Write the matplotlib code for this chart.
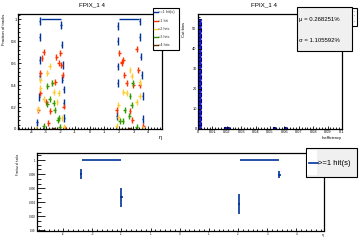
import matplotlib
matplotlib.use('Agg')
import matplotlib.pyplot as plt
from matplotlib.patches import Rectangle
from matplotlib.lines import Line2D
from matplotlib.ticker import MultipleLocator, FormatStrFormatter, AutoMinorLocator

plt.rcParams['font.family'] = ['Liberation Sans', 'DejaVu Sans']

# fraction of tracks vs eta, one list per hit multiplicity
eta_ge1 = [-3.41, -3.41, -3.41, -3.41, -3.45, -3.6, -1.96, -1.92, -1.85, -1.87, -1.78, -1.78, -1.72,
           1.93, 1.92, 1.92, 1.92, 1.85, 3.43, 3.43, 3.48, 3.55, 3.62, 3.62]
frac_ge1 = [0.985, 0.84, 0.63, 0.485, 0.29, 0.06, 0.95, 0.77, 0.585, 0.45, 0.36, 0.24, 0.1,
            0.94, 0.80, 0.57, 0.42, 0.12, 0.98, 0.84, 0.66, 0.49, 0.3, 0.09]
eta_ge1_band = [-2.63, 2.68]
eta_ge1_band_w = [0.67, 0.68]
frac_ge1_band = [1.0, 1.0]

eta_1 = [-3.15, -3.26, -3.37, -2.28, -2.0, -2.12, -1.94, -1.85, -2.35, -3.37, -2.98, -1.78, -3.52, -2.69,
         -2.84, -1.67, 3.21, 2.03, 2.19, 2.3, 2.19, 2.37, 2.53, 2.98, 3.43, 3.32, 1.85, 2.76, 2.91, 3.66]
frac_1 = [0.70, 0.645, 0.51, 0.66, 0.69, 0.60, 0.585, 0.49, 0.43, 0.33, 0.25, 0.205, 0.175, 0.16,
          0.055, 0.0, 0.73, 0.69, 0.615, 0.63, 0.60, 0.49, 0.42, 0.40, 0.40, 0.54, 0.175, 0.16, 0.085, 0.025]

eta_2 = [-2.73, -2.91, -3.37, -2.57, -2.46, -2.12, -3.14, -2.23, -3.37, -1.89, -3.64, -1.78, -3.55,
         2.76, 2.87, 2.3, 2.53, 3.43, 1.96, 3.21, 1.96, 3.43, 1.85, 3.66]
frac_2 = [0.57, 0.51, 0.37, 0.42, 0.34, 0.33, 0.27, 0.25, 0.45, 0.10, 0.0, 0.02, 0.18,
          0.54, 0.48, 0.34, 0.33, 0.30, 0.22, 0.25, 0.11, 0.43, 0.025, 0.0]

eta_3 = [-2.91, -2.57, -2.73, -2.46, -2.39, -2.12, -2.19, -3.14, -2.05, -2.91,
         2.94, 2.76, 2.41, 2.87, 2.07, 2.26, 2.71, 3.21]
frac_3 = [0.39, 0.42, 0.27, 0.24, 0.175, 0.10, 0.085, 0.025, 0.02, 0.23,
          0.42, 0.30, 0.175, 0.22, 0.07, 0.075, 0.12, 0.02]

eta_4 = [-2.9, -2.7, -2.5, -2.3, -2.1, 2.1, 2.3, 2.5, 2.7, 2.9]
frac_4 = [0.004, 0.003, 0.005, 0.004, 0.003, 0.004, 0.003, 0.004, 0.005, 0.003]

legend_labels = ['>=1 hit(s)', '=1 hit', '=2 hits', '=3 hits', '=4 hits']
colors = ['#003399', '#ff3300', '#ffcc33', '#339900', '#663300']

# inefficiency histogram
ineff_bin_lo = [0.0, 0.018, 0.020, 0.052, 0.060]
ineff_counts = [55, 1, 1, 1, 1]
ineff_bin_w = 0.002
stat_lines = ['\u03bc = 0.268251%', '\u03c3 = 1.105592%']

# efficiency vs eta
eta_eff = [-3.38, -2.0, 2.04, 3.42]
eff = [0.998, 0.9947, 0.9938, 0.9979]
eff_err = [0.0007, 0.0014, 0.0014, 0.0005]
eta_eff_band = [-2.67, 2.74]
eta_eff_band_w = [0.67, 0.66]
eff_band = [1.0, 1.0]

title = 'FPIX_1 4'


def fx(px):
    return px / 360.0


def fy(py):
    return 1 - py / 240.0


def style_axes(ax, fs):
    for s in ax.spines.values():
        s.set_linewidth(0.9)
    ax.tick_params(which='both', direction='in', top=False, right=False, labelsize=fs,
                   pad=1, width=0.6, colors='black')
    ax.tick_params(which='major', length=2.5)
    ax.tick_params(which='minor', length=1.2)


fig = plt.figure(figsize=(3.6, 2.4), dpi=100)

# top left: fraction of tracks
ax1 = fig.add_axes([fx(18), fy(129), 144 / 360, 115 / 240])
style_axes(ax1, 3)
ax1.set_xlim(-4.9, 4.95)
ax1.set_ylim(0, 1.048)
ax1.xaxis.set_major_locator(MultipleLocator(1))
ax1.xaxis.set_minor_locator(MultipleLocator(0.2))
ax1.yaxis.set_major_locator(MultipleLocator(0.2))
ax1.yaxis.set_minor_locator(MultipleLocator(0.04))
ax1.yaxis.set_major_formatter(FormatStrFormatter('%g'))
ax1.xaxis.set_major_formatter(FormatStrFormatter('%g'))

ax1.errorbar(eta_ge1_band, frac_ge1_band, xerr=eta_ge1_band_w, fmt='none', ecolor=colors[0], elinewidth=1)
ax1.errorbar(eta_ge1, frac_ge1, xerr=0.04, yerr=0.035, fmt='none', ecolor=colors[0], elinewidth=1)
series = [(eta_1, frac_1), (eta_2, frac_2), (eta_3, frac_3)]
for (x, y), c in zip(series, colors[1:4]):
    ax1.errorbar(x, y, xerr=0.1, yerr=0.027, fmt='none', ecolor=c, elinewidth=1)
ax1.errorbar(eta_4, frac_4, xerr=0.1, fmt='none', ecolor=colors[4], elinewidth=1)

# top right: inefficiency
ax2 = fig.add_axes([fx(198), fy(129), 144 / 360, 115 / 240])
style_axes(ax2, 2.8)
ax2.set_xlim(0, 0.1)
ax2.set_ylim(0, 57.5)
ax2.xaxis.set_major_locator(MultipleLocator(0.01))
ax2.xaxis.set_minor_locator(MultipleLocator(0.002))
ax2.yaxis.set_major_locator(MultipleLocator(10))
ax2.yaxis.set_minor_locator(MultipleLocator(2))
ax2.xaxis.set_major_formatter(FormatStrFormatter('%g'))
ax2.bar(ineff_bin_lo, ineff_counts, width=ineff_bin_w, align='edge', color='#1a1aee',
        edgecolor='#000070', linewidth=0.8, linestyle='--')

# bottom: efficiency
ax3 = fig.add_axes([fx(37), fy(230.5), 287 / 360, 77.5 / 240])
style_axes(ax3, 2)
ax3.tick_params(axis='y', which='major', length=6)
ax3.tick_params(axis='y', which='minor', length=3)
ax3.set_xlim(-4.9, 4.95)
ax3.set_ylim(0.99, 1.001)
ax3.xaxis.set_major_locator(MultipleLocator(1))
ax3.xaxis.set_minor_locator(AutoMinorLocator(6))
ax3.yaxis.set_major_locator(MultipleLocator(0.002))
ax3.yaxis.set_minor_locator(AutoMinorLocator(3))
ax3.yaxis.set_major_formatter(FormatStrFormatter('%g'))
ax3.xaxis.set_major_formatter(FormatStrFormatter('%g'))
ax3.errorbar(eta_eff_band, eff_band, xerr=eta_eff_band_w, fmt='none', ecolor=colors[0], elinewidth=1.2)
ax3.errorbar(eta_eff, eff, xerr=0.04, yerr=eff_err, fmt='none', ecolor=colors[0], elinewidth=1.2)

# titles and axis labels
fig.text(fx(92), fy(5), title, fontsize=4.5, ha='center', va='center')
fig.text(fx(264), fy(5), title, fontsize=4.5, ha='center', va='center')
fig.text(fx(4), fy(14), 'Fraction of tracks', fontsize=3, rotation=90, ha='center', va='top')
fig.text(fx(160), fy(137), '\u03b7', fontsize=4, ha='center', va='center')
fig.text(fx(184), fy(22), 'Cut bins', fontsize=3, rotation=90, ha='center', va='top')
fig.text(fx(342), fy(138), 'Inefficiency', fontsize=3, ha='right', va='center')
fig.text(fx(18), fy(154), 'Fraction of tracks', fontsize=2, rotation=90, ha='center', va='top')
fig.text(fx(323), fy(235), '\u03b7', fontsize=2.5, ha='center', va='center')

# top left legend
fig.add_artist(Rectangle((fx(153), fy(50)), 26 / 360, 42 / 240, transform=fig.transFigure,
                         facecolor='white', edgecolor='black', linewidth=0.8))
for i, (lab, c) in enumerate(zip(legend_labels, colors)):
    yy = [11.7, 20.5, 29, 37, 45][i]
    fig.add_artist(Line2D([fx(154), fx(158)], [fy(yy), fy(yy)], color=c, linewidth=1,
                          transform=fig.transFigure))
    fig.text(fx(158.5), fy(yy), lab, fontsize=2.8, ha='left', va='center', color='#333333')

# top right small legend and stats box
fig.add_artist(Rectangle((fx(340), fy(26)), 17 / 360, 18 / 240, transform=fig.transFigure,
                         facecolor='white', edgecolor='black', linewidth=0.8))
for yy in [11, 16, 21]:
    fig.text(fx(354), fy(yy), 'a', fontsize=1.5, ha='center', va='center', color='#555555')
fig.add_artist(Rectangle((fx(297), fy(51)), 55 / 360, 44 / 240, transform=fig.transFigure,
                         facecolor='#f0f0f0', edgecolor='black', linewidth=0.8))
fig.text(fx(299), fy(19), stat_lines[0], fontsize=4.3, ha='left', va='center')
fig.text(fx(299), fy(40), stat_lines[1], fontsize=4.3, ha='left', va='center')

# bottom legend
fig.add_artist(Rectangle((fx(306), fy(177)), 51 / 360, 29 / 240, transform=fig.transFigure,
                         facecolor='#f0f0f0', edgecolor='black', linewidth=0.8))
fig.add_artist(Rectangle((fx(307), fy(175)), 10 / 360, 25 / 240, transform=fig.transFigure,
                         facecolor='white', edgecolor='none'))
fig.add_artist(Line2D([fx(308.5), fx(317.5)], [fy(163.3), fy(163.3)], color=colors[0], linewidth=1.2,
                      transform=fig.transFigure))
fig.text(fx(318), fy(163.3), '>=1 hit(s)', fontsize=5.5, ha='left', va='center')

fig.savefig('out.png', dpi=100)
